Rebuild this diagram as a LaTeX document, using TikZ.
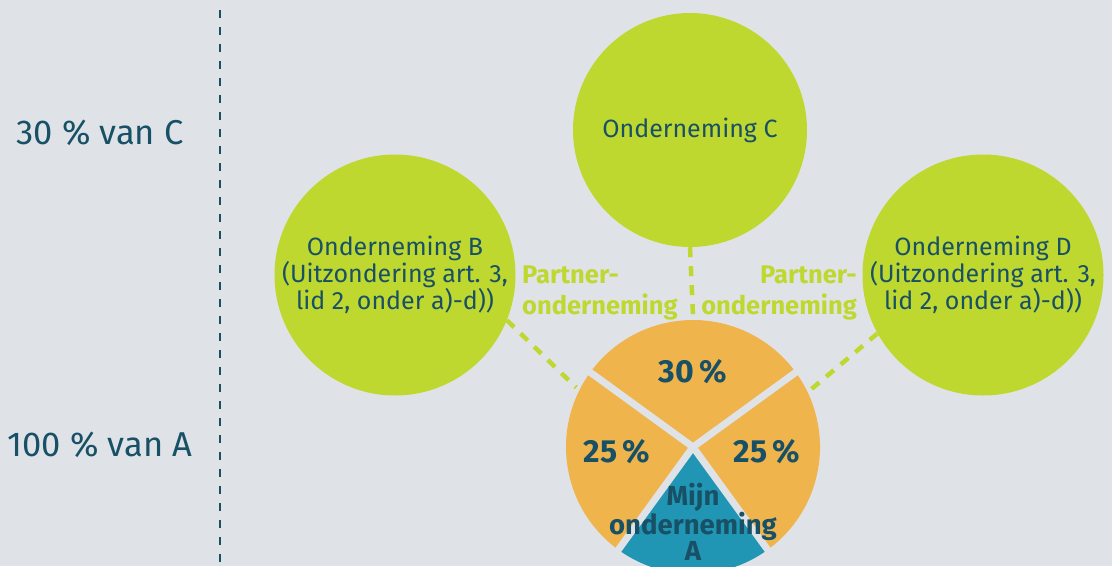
\documentclass[tikz,border=0pt]{standalone}
\usepackage{fontspec}
\setmainfont{Fira Sans}
\definecolor{bg}{RGB}{223,227,232}
\definecolor{lime}{RGB}{191,216,48}
\definecolor{orng}{RGB}{240,180,76}
\definecolor{teal}{RGB}{33,150,180}
\definecolor{ink}{RGB}{24,80,102}
\begin{document}
\begin{tikzpicture}[x=1pt,y=-1pt,
  firm/.style={circle, fill=lime, inner sep=0pt, text=ink, align=center,
    font=\fontsize{25}{27}\selectfont},
  partner/.style={text=lime, font=\bfseries\fontsize{25.5}{31}\selectfont, inner sep=0pt},
  link/.style={draw=lime, line width=4.5pt, dash pattern=on 10pt off 9pt},
  share/.style={text=ink, font=\bfseries\fontsize{32}{34}\selectfont, inner sep=0pt},
  sidelabel/.style={text=ink, font=\fontsize{34.5}{36}\selectfont, inner sep=0pt},
  gap/.style={draw=bg, line width=7pt}]
\fill[bg] (0,0) rectangle (1112,566);
\useasboundingbox (0,0) rectangle (1112,566);
% divider
\coordinate (dtop) at (220,10);
\coordinate (dbot) at (220,566);
\draw[ink, line width=2pt, dash pattern=on 8pt off 9pt] (dtop) -- (dbot);
\node[sidelabel] (lc) at (100,133) {30 \% van C};
\node[sidelabel] (la) at (100,445) {100 \% van A};
% firms
\node[firm, minimum size=234pt] (C) at (690,130) {Onderneming C};
\node[firm, minimum size=241pt] (B) at (395,275) {Onderneming B\\(Uitzondering art. 3,\\lid 2, onder a)-d))};
\node[firm, minimum size=241pt] (D) at (983,275) {Onderneming D\\(Uitzondering art. 3,\\lid 2, onder a)-d))};
% pie
\node[circle, minimum size=262pt, inner sep=0pt] (pie) at (693,447) {};
\begin{scope}[shift={(693,447)}, yscale=-1]
  \fill[orng] (0,0) -- (36:127) arc[start angle=36, end angle=144, radius=127] -- cycle;
  \fill[orng] (0,0) -- (144:127) arc[start angle=144, end angle=234, radius=127] -- cycle;
  \fill[teal] (0,0) -- (234:127) arc[start angle=234, end angle=306, radius=127] -- cycle;
  \fill[orng] (0,0) -- (306:127) arc[start angle=306, end angle=396, radius=127] -- cycle;
  \draw[gap] (0,0) -- (36:135);
  \draw[gap] (0,0) -- (144:135);
  \draw[gap] (0,0) -- (234:135);
  \draw[gap] (0,0) -- (306:135);
\end{scope}
% links
\draw[link] (B.-22) -- (pie.153);
\draw[link] (C.south) -- (pie.north);
\draw[link] (D.209) -- (pie.26);
% labels
\node[partner, anchor=west, align=left] (pl) at (522,293) {Partner-\\onderneming};
\node[partner, anchor=east, align=right] (pr) at (857,293) {Partner-\\onderneming};
\node[share] (s30) at (693,372) {30\,\%};
\node[share] (s25l) at (617,452) {25\,\%};
\node[share] (s25r) at (767,452) {25\,\%};
\node[text=ink, font=\bfseries\fontsize{27.5}{26}\selectfont, align=center, inner sep=0pt] (mine) at (693,522) {Mijn\\onderneming\\A};
\end{tikzpicture}
\end{document}
